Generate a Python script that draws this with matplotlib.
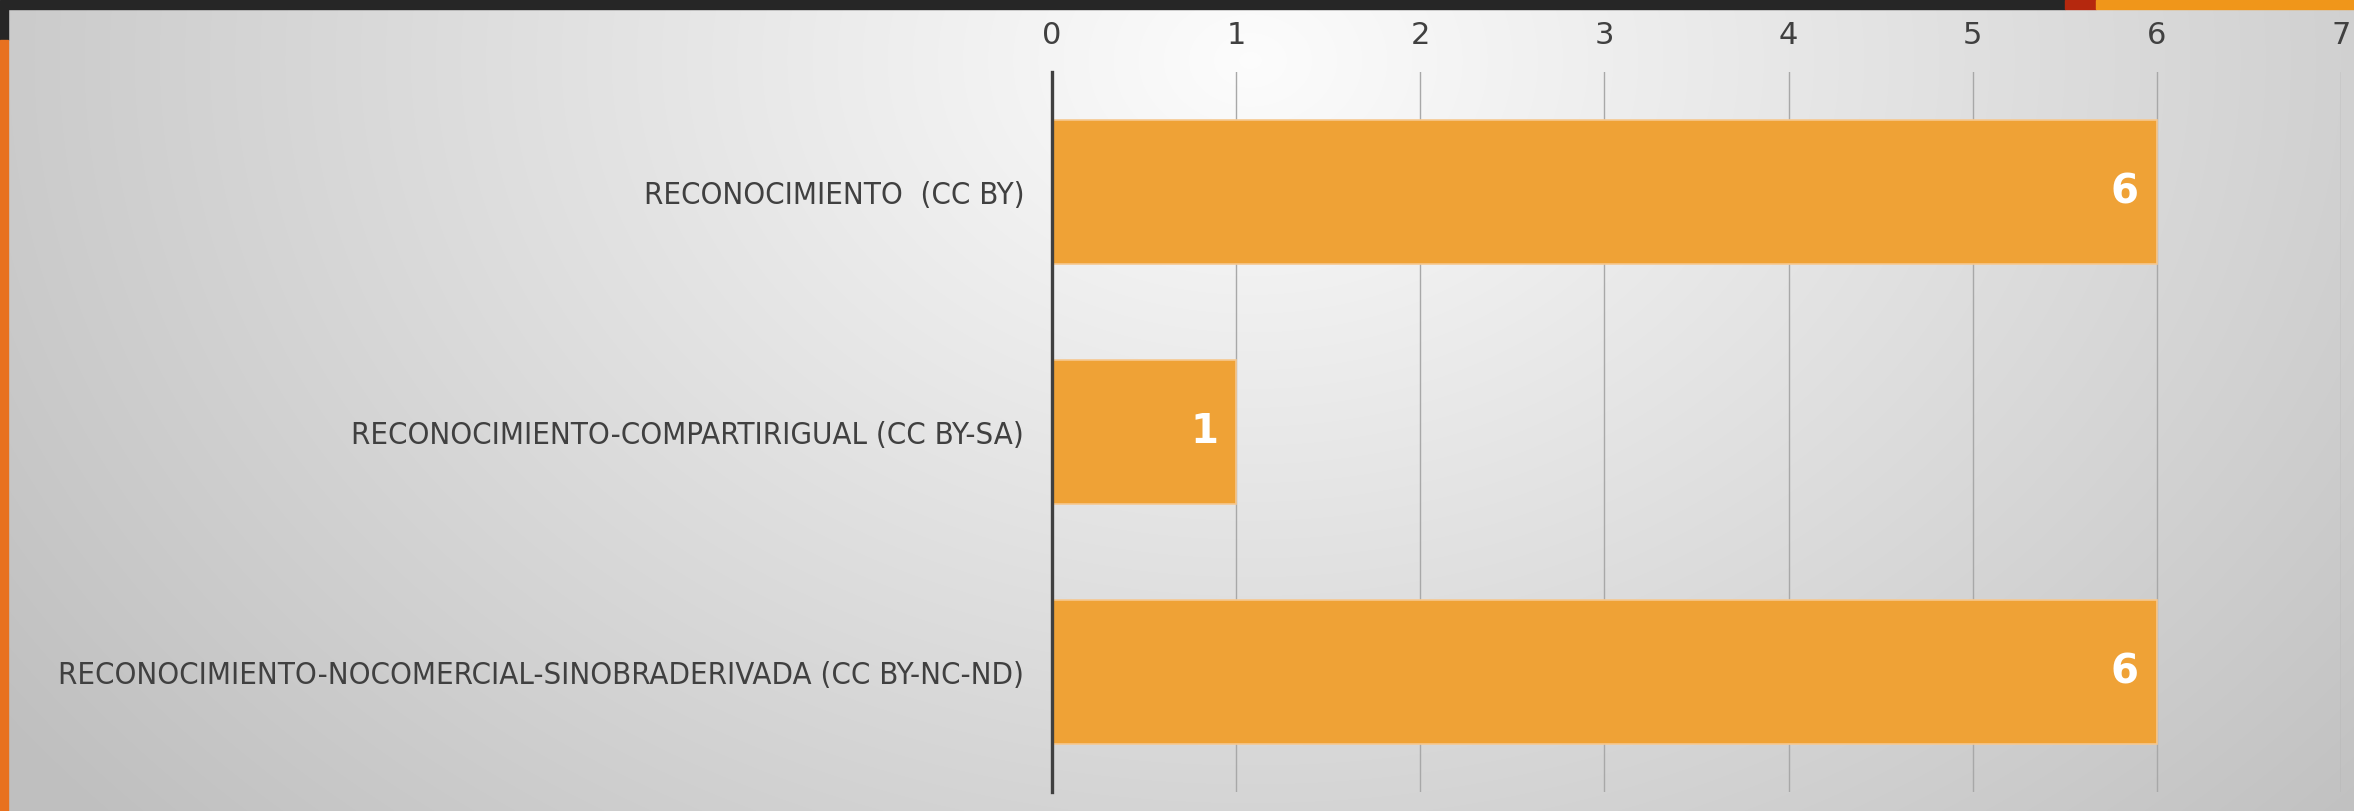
import numpy as np
import matplotlib
matplotlib.use('Agg')
import matplotlib.pyplot as plt
from matplotlib.patches import Rectangle

# data
licencias = ['RECONOCIMIENTO  (CC BY)',
             'RECONOCIMIENTO-COMPARTIRIGUAL (CC BY-SA)',
             'RECONOCIMIENTO-NOCOMERCIAL-SINOBRADERIVADA (CC BY-NC-ND)']
cantidad = [6, 1, 6]
ticks_x = [0, 1, 2, 3, 4, 5, 6, 7]

plt.rcParams['font.family'] = ['DejaVu Sans']

W, H = 2354, 811
fig = plt.figure(figsize=(W / 100, H / 100), dpi=100)

# background panel with a soft radial gradient
bg = fig.add_axes([0, 0, 1, 1])
bg.set_xlim(0, W)
bg.set_ylim(H, 0)
bg.axis('off')
yy, xx = np.mgrid[0:H, 0:W]
d = np.sqrt(((xx - 1250) / 1600.0) ** 2 + ((yy - 60) / 1200.0) ** 2)
g = np.clip(0.99 - 0.25 * d, 0.75, 1.0)
bg.imshow(np.dstack([g, g, g]), extent=[0, W, H, 0], aspect='auto', zorder=0)
# decorative bands
bg.add_patch(Rectangle((0, 0), 2065, 9, color='#262626', zorder=2))
bg.add_patch(Rectangle((2065, 0), 31, 9, color='#B5280E', zorder=2))
bg.add_patch(Rectangle((2096, 0), W - 2096, 9, color='#F0961A', zorder=2))
bg.add_patch(Rectangle((0, 9), 8, 31, color='#262626', zorder=2))
bg.add_patch(Rectangle((0, 40), 8, H - 40, color='#E8711F', zorder=2))

ax = fig.add_axes([1052 / W, 19 / H, 1289 / W, 720 / H])
ax.patch.set_alpha(0)
y = np.arange(len(licencias))
ax.barh(y, cantidad, height=0.6, color='#EFA236', edgecolor='#F6C890',
        linewidth=1.2, zorder=3)

for yi, v in zip(y, cantidad):
    ax.annotate(str(v), xy=(v, yi), xytext=(-13, 0), textcoords='offset points',
                ha='right', va='center', color='white', fontsize=29,
                fontweight='bold', zorder=4)

ax.set_xlim(0, 7)
ax.set_ylim(2.5, -0.5)
ax.set_xticks(ticks_x)
ax.set_yticks(y)
ax.set_yticklabels(licencias, fontstretch='condensed')
ax.xaxis.tick_top()
ax.tick_params(axis='x', length=0, pad=16, labelsize=22, colors='#404040')
ax.tick_params(axis='y', length=0, pad=20, labelsize=22.3, colors='#404040')
ax.grid(axis='x', color='#A8A8A8', linewidth=1.0, zorder=1)
for s in ['top', 'right', 'bottom']:
    ax.spines[s].set_visible(False)
ax.spines['left'].set_color('#404040')
ax.spines['left'].set_linewidth(2.4)
ax.spines['left'].set_zorder(5)

fig.savefig('out.png', dpi=100)
